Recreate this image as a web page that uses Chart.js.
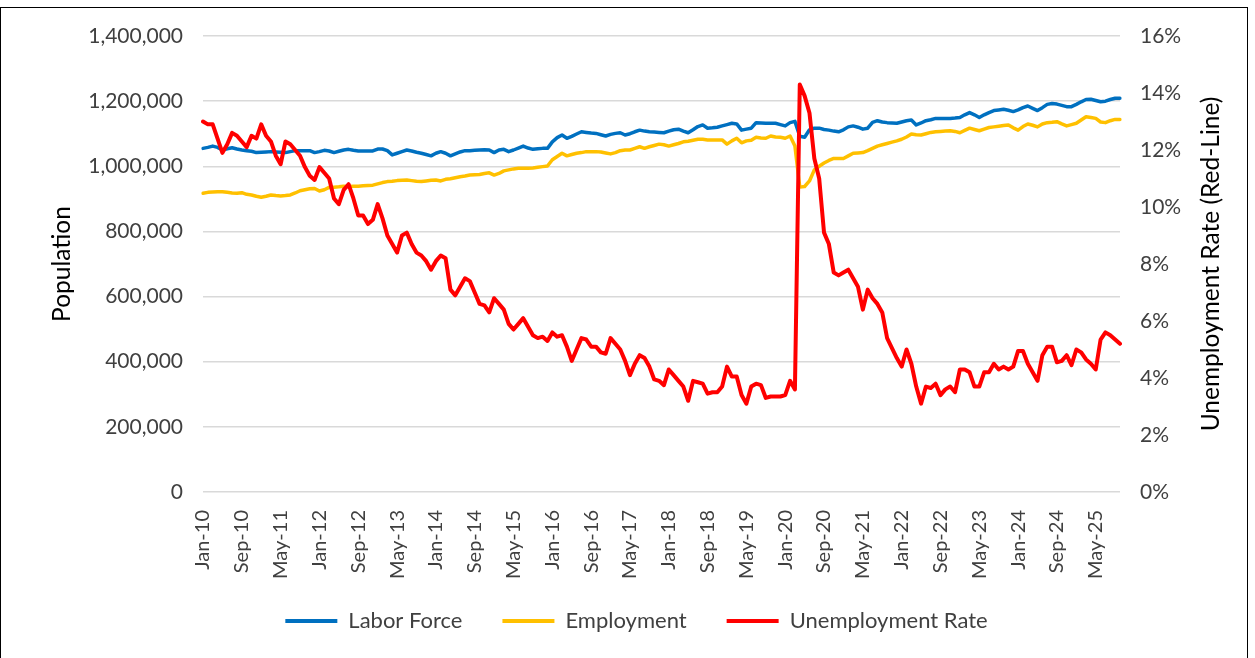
<!DOCTYPE html>
<html>
<head>
<meta charset="utf-8">
<script src="https://cdn.jsdelivr.net/npm/chart.js@4.4.1/dist/chart.umd.min.js"></script>
<style>
    html, body { margin: 0; padding: 0; background: #fff; }
    #frame { position: absolute; left: 0; top: 7px; width: 1248px; height: 660px; border: 1px solid #000; box-sizing: border-box; }
    #board { position: absolute; left: 0; top: 0; }
</style>
</head>
<body>
<div id="frame"></div>
<canvas id="board" width="1255" height="658"></canvas>
<script>
// monthly, Jan-2010 .. Oct-2025
const monthNames = ["Jan", "Feb", "Mar", "Apr", "May", "Jun", "Jul", "Aug", "Sep", "Oct", "Nov", "Dec"];
const startYear = 2010;
const monthCount = 190;

// thousands of people
const laborForce = [
    1055, 1058, 1062, 1058, 1050, 1054, 1057, 1053, 1050, 1048,
    1046, 1042, 1043, 1044, 1045, 1044, 1043, 1042, 1045, 1048,
    1048, 1048, 1048, 1042, 1045, 1049, 1047, 1042, 1046, 1050,
    1052, 1049, 1047, 1047, 1047, 1047, 1053, 1053, 1048, 1035,
    1040, 1045, 1050, 1047, 1043, 1040, 1036, 1032, 1040, 1045,
    1040, 1032, 1038, 1044, 1048, 1048, 1049, 1050, 1051, 1050,
    1042, 1050, 1052, 1045, 1050, 1056, 1062, 1056, 1052, 1054,
    1055, 1055, 1075, 1088, 1096, 1086, 1092, 1099, 1106, 1104,
    1102, 1101, 1097, 1093, 1098, 1101, 1103, 1096, 1100, 1106,
    1111, 1108, 1106, 1105, 1104, 1103, 1108, 1112, 1114, 1108,
    1103, 1112, 1122, 1127, 1117, 1118, 1120, 1124, 1128, 1132,
    1130, 1111, 1114, 1117, 1134, 1133, 1132, 1132, 1132, 1128,
    1124, 1134, 1138, 1092, 1089, 1112, 1117, 1117, 1113, 1111,
    1108, 1106, 1112, 1121, 1124, 1120, 1114, 1117, 1135, 1140,
    1136, 1134, 1133, 1132, 1136, 1140, 1142, 1127, 1133, 1140,
    1143, 1147, 1147, 1147, 1147, 1148, 1150, 1158, 1165, 1158,
    1150, 1158, 1165, 1171, 1173, 1175, 1172, 1168, 1173, 1180,
    1185, 1178, 1171, 1180, 1190, 1193, 1191, 1187, 1183, 1183,
    1190, 1198, 1205, 1206, 1202, 1198, 1200, 1205, 1209, 1209
];

const employment = [
    917, 920, 921, 922, 922, 920, 918, 917, 919, 914,
    912, 908, 905, 908, 912, 910, 909, 910, 912, 918,
    925, 928, 931, 932, 924, 928, 935, 936, 937, 939,
    938, 939, 939, 940, 941, 942, 946, 950, 953, 954,
    956, 957, 958, 956, 954, 953, 955, 957, 958, 955,
    960, 962, 965, 968, 970, 973, 974, 975, 978, 980,
    973, 978, 986, 989, 992, 994, 994, 994, 995, 997,
    999, 1001, 1020, 1030, 1040, 1032, 1036, 1040, 1042, 1045,
    1045, 1045, 1044, 1041, 1038, 1042, 1048, 1050, 1050, 1055,
    1060, 1055, 1060, 1064, 1068, 1066, 1062, 1066, 1070, 1075,
    1077, 1080, 1083, 1083, 1081, 1081, 1081, 1081, 1068, 1078,
    1086, 1072, 1078, 1080, 1089, 1087, 1086, 1093, 1090, 1089,
    1086, 1093, 1062, 936, 938, 955, 989, 1000, 1010, 1018,
    1024, 1024, 1024, 1032, 1040, 1041, 1042, 1048, 1055, 1062,
    1066, 1070, 1074, 1078, 1083, 1090, 1099, 1097, 1096, 1100,
    1104, 1106, 1107, 1108, 1109, 1107, 1103, 1110, 1117, 1113,
    1109, 1114, 1119, 1121, 1123, 1125, 1127, 1118, 1111, 1122,
    1130, 1126, 1121, 1130, 1134, 1135, 1137, 1130, 1124, 1128,
    1132, 1142, 1152, 1150, 1147, 1136, 1134, 1140, 1144, 1144
];

// percent
const unemploymentRate = [
    13.0, 12.9, 12.9, 12.4, 11.9, 12.2, 12.6, 12.5, 12.3, 12.1,
    12.5, 12.4, 12.9, 12.5, 12.3, 11.8, 11.5, 12.3, 12.2, 12.0,
    11.8, 11.4, 11.1, 10.95, 11.4, 11.2, 11.0, 10.3, 10.1, 10.6,
    10.8, 10.3, 9.7, 9.7, 9.4, 9.55, 10.1, 9.6, 9.0, 8.7,
    8.4, 9.0, 9.1, 8.7, 8.4, 8.3, 8.1, 7.8, 8.1, 8.3,
    8.2, 7.1, 6.9, 7.2, 7.5, 7.4, 7.0, 6.6, 6.55, 6.3,
    6.8, 6.6, 6.4, 5.9, 5.7, 5.9, 6.1, 5.8, 5.5, 5.4,
    5.45, 5.3, 5.6, 5.45, 5.5, 5.1, 4.6, 5.0, 5.4, 5.35,
    5.1, 5.1, 4.9, 4.85, 5.4, 5.2, 5.0, 4.6, 4.1, 4.5,
    4.8, 4.7, 4.4, 3.95, 3.9, 3.75, 4.3, 4.1, 3.9, 3.7,
    3.2, 3.9, 3.85, 3.8, 3.45, 3.5, 3.5, 3.7, 4.4, 4.05,
    4.05, 3.4, 3.1, 3.7, 3.8, 3.75, 3.3, 3.35, 3.35, 3.35,
    3.4, 3.9, 3.6, 14.3, 13.9, 13.3, 11.7, 11.0, 9.1, 8.7,
    7.7, 7.6, 7.7, 7.8, 7.5, 7.2, 6.4, 7.1, 6.8, 6.6,
    6.3, 5.4, 5.05, 4.7, 4.4, 5.0, 4.5, 3.7, 3.1, 3.7,
    3.65, 3.8, 3.4, 3.6, 3.7, 3.5, 4.3, 4.3, 4.2, 3.7,
    3.7, 4.2, 4.2, 4.5, 4.3, 4.4, 4.3, 4.4, 4.95, 4.95,
    4.5, 4.2, 3.9, 4.8, 5.1, 5.1, 4.55, 4.6, 4.8, 4.45,
    5.0, 4.9, 4.65, 4.5, 4.3, 5.35, 5.6, 5.5, 5.35, 5.2
];

const labelEvery = 8;
const rightTitle = "Unemployment Rate (Red-Line)";

function getById(id) {
    return document.getElementById(id);
}

function makeMonthLabels() {
    let labels = [];
    for (let i = 0; i < monthCount; ++i) {
        const yy = String((startYear + Math.floor(i / 12)) % 100).padStart(2, "0");
        labels.push(`${monthNames[i % 12]}-${yy}`);
    }
    return labels;
}

const PAD_LEFT = 47;
const PAD_RIGHT = 29;
const PLOT_LEFT = 203;
const PLOT_RIGHT = 1120;
const LEGEND_LIFT = 12;
const TITLE_SIZE = 24.5;
const textGrey = "#404040";
const fontFamily = "Lato, 'Liberation Sans', sans-serif";

Chart.defaults.font.family = fontFamily;
Chart.defaults.color = textGrey;

// x labels need a tall scale box (they get clipped to it), so pull the legend back up a little
const liftLegend = {
    id: "liftLegend",
    afterLayout(chart) {
        chart.legend.top -= LEGEND_LIFT;
        chart.legend.bottom -= LEGEND_LIFT;
    }
};

// right axis title reads bottom-to-top like the left one (Chart.js would turn it the other way)
const rightAxisTitle = {
    id: "rightAxisTitle",
    afterDraw(chart) {
        const scale = chart.scales.y1;
        const ctx = chart.ctx;
        ctx.save();
        ctx.translate(scale.right - TITLE_SIZE * 0.6, (chart.chartArea.top + chart.chartArea.bottom) / 2);
        ctx.rotate(-Math.PI / 2);
        ctx.font = `${TITLE_SIZE}px ${fontFamily}`;
        ctx.fillStyle = "#000";
        ctx.textAlign = "center";
        ctx.textBaseline = "middle";
        ctx.fillText(rightTitle, 0, 0);
        ctx.restore();
    }
};

function makeChart() {
    const labels = makeMonthLabels();

    const data = {
        labels: labels,
        datasets: [{
            label: "Labor Force",
            data: laborForce.map(v => v * 1000),
            borderColor: "#0070C0",
            backgroundColor: "#0070C0",
            borderWidth: 3.5,
            yAxisID: "y",
            order: 2
        }, {
            label: "Employment",
            data: employment.map(v => v * 1000),
            borderColor: "#FFC000",
            backgroundColor: "#FFC000",
            borderWidth: 3.5,
            yAxisID: "y",
            order: 1
        }, {
            label: "Unemployment Rate",
            data: unemploymentRate,
            borderColor: "#FF0000",
            backgroundColor: "#FF0000",
            borderWidth: 4,
            yAxisID: "y1",
            order: 0
        }]
    };

    const config = {
        type: "line",
        data: data,
        plugins: [liftLegend, rightAxisTitle],
        options: {
            responsive: false,
            animation: false,
            devicePixelRatio: 1,
            layout: { padding: { left: PAD_LEFT, right: PAD_RIGHT, top: 36, bottom: 4 } },
            elements: {
                point: { radius: 0 },
                line: { tension: 0, borderJoinStyle: "round", borderCapStyle: "round" }
            },
            plugins: {
                tooltip: { enabled: false },
                legend: {
                    position: "bottom",
                    labels: {
                        boxWidth: 52,
                        boxHeight: 4,
                        padding: 40,
                        color: textGrey,
                        font: { size: 22 },
                        sort: (a, b) => a.datasetIndex - b.datasetIndex,
                        generateLabels: (chart) => Chart.defaults.plugins.legend.labels.generateLabels(chart)
                            .map(item => Object.assign(item, { lineWidth: 0, fillStyle: item.strokeStyle }))
                    }
                }
            },
            scales: {
                x: {
                    grid: { display: false },
                    border: { display: false },
                    ticks: {
                        autoSkip: false,
                        minRotation: 90,
                        maxRotation: 90,
                        padding: 10,
                        font: { size: 20 },
                        callback: function (value, index) {
                            return index % labelEvery === 0 ? this.getLabelForValue(value) : null;
                        }
                    },
                    afterFit: (scale) => { scale.height = 90; }
                },
                y: {
                    position: "left",
                    min: 0,
                    max: 1400000,
                    grid: { color: "#d9d9d9", lineWidth: 1.5, drawTicks: false },
                    border: { display: false },
                    ticks: {
                        stepSize: 200000,
                        padding: 20,
                        font: { size: 21 },
                        callback: (v) => v.toLocaleString("en-US")
                    },
                    title: {
                        display: true,
                        text: "Population",
                        color: "#000",
                        font: { size: TITLE_SIZE },
                        padding: 0
                    },
                    afterFit: (scale) => { scale.width = PLOT_LEFT - PAD_LEFT; }
                },
                y1: {
                    position: "right",
                    min: 0,
                    max: 16,
                    grid: { display: false, drawTicks: false },
                    border: { display: false },
                    ticks: {
                        stepSize: 2,
                        padding: 20,
                        font: { size: 21 },
                        callback: (v) => v + "%"
                    },
                    afterFit: (scale) => { scale.width = 1255 - PAD_RIGHT - PLOT_RIGHT; }
                }
            }
        }
    };

    const ctx = getById("board").getContext("2d");
    return new Chart(ctx, config);
}

makeChart();
</script>
</body>
</html>
